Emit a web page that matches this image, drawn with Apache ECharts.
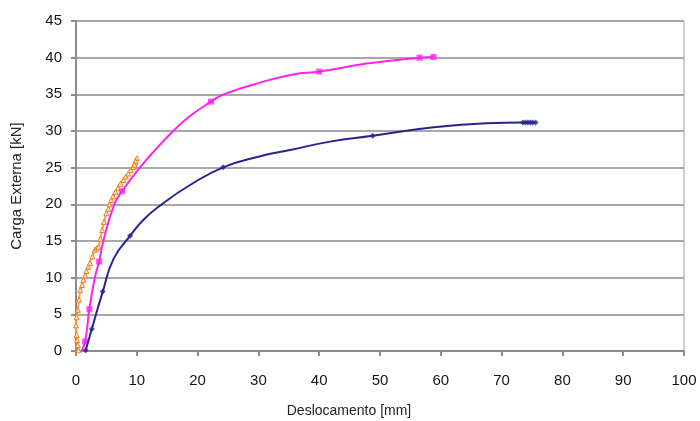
<!DOCTYPE html>
<html>
<head>
<meta charset="utf-8">
<script src="https://cdn.jsdelivr.net/npm/echarts@6/dist/echarts.min.js"></script>
<style>
  html, body { margin: 0; padding: 0; background: #fff; }
  #chart { width: 700px; height: 421px; }
</style>
</head>
<body>
<div id="chart"></div>
<script>
// Load–displacement curves: displacement [mm] vs external load [kN]
const xTicks = [0, 10, 20, 30, 40, 50, 60, 70, 80, 90, 100];
const yTicks = [0, 5, 10, 15, 20, 25, 30, 35, 40, 45];

// Navy curve and its measured points (diamonds)
const blueX = [1.6, 2.6, 4.4, 6.2, 8.9, 11.1, 14.1, 18.7, 24.2, 30.0, 35.2, 41.8, 48.8, 58.8, 67.5, 73.5, 75.6];
const blueY = [0.1, 3.0, 8.1, 12.6, 15.7, 17.9, 20.0, 22.6, 25.05, 26.5, 27.4, 28.55, 29.35, 30.5, 31.05, 31.15, 31.15];
const blueMarkX = [1.6, 2.6, 4.4, 8.9, 24.2, 48.8, 73.5, 73.9, 74.3, 74.7, 75.1, 75.6];
const blueMarkY = [0.1, 3.0, 8.1, 15.7, 25.05, 29.35, 31.15, 31.15, 31.15, 31.15, 31.15, 31.15];

// Magenta curve and its measured points (squares)
const pinkX = [0.9, 1.5, 2.2, 3.1, 3.8, 4.5, 6.3, 7.6, 10.5, 13.0, 16.0, 18.7, 22.2, 24.3, 30.3, 35.7, 40.0, 47.8, 56.5, 58.8];
const pinkY = [0.0, 1.3, 5.7, 10.0, 12.2, 15.0, 20.0, 21.8, 25.0, 27.4, 30.0, 32.0, 34.0, 35.0, 36.6, 37.7, 38.1, 39.2, 40.0, 40.1];
const pinkMarkX = [1.5, 2.2, 3.8, 7.6, 22.2, 40.0, 56.5, 58.8];
const pinkMarkY = [1.3, 5.7, 12.2, 21.8, 34.0, 38.1, 40.0, 40.1];

// Orange series (dense hollow triangle markers)
const orangeX = [0.4, 0.3, 0.2, 0.1, 0.0, 0.1, 0.3, 0.5, 0.7, 1.0, 1.2, 1.5, 1.7, 2.0, 2.3, 2.7, 3.1, 3.4, 3.7, 4.0, 4.3, 4.6, 5.0, 5.3, 5.5, 5.8, 6.1, 6.5, 6.9, 7.3, 7.8, 8.2, 8.6, 9.0, 9.4, 9.7, 10.0, 9.8, 9.6];
const orangeY = [0.1, 0.8, 1.5, 2.2, 3.5, 4.6, 5.6, 7.0, 8.3, 9.0, 9.7, 10.3, 10.9, 11.5, 12.0, 12.9, 13.8, 14.0, 14.2, 15.3, 16.5, 17.6, 18.8, 19.4, 20.0, 20.6, 21.1, 21.7, 22.2, 22.8, 23.3, 23.8, 24.2, 24.7, 25.1, 25.7, 26.3, 25.9, 25.4];

const pairs = (xs, ys) => xs.map((x, i) => [x, ys[i]]);
const BLUE = '#25258f', PINK = '#ff22ee', ORANGE = '#f07f1e';
const labelFont = { fontFamily: 'Liberation Sans', fontSize: 15, color: '#151515' };

const chart = echarts.init(document.getElementById('chart'));
chart.setOption({
  animation: false,
  grid: {
    left: 76, right: 16, top: 21, bottom: 70,
    containLabel: false, outerBoundsMode: 'none',
    show: true, borderColor: '#9c9c9c', borderWidth: 1
  },
  xAxis: {
    type: 'value',
    min: xTicks[0], max: xTicks[xTicks.length - 1], interval: 10,
    name: 'Deslocamento [mm]',
    nameLocation: 'middle', nameGap: 53,
    nameTextStyle: { fontFamily: 'Liberation Sans', fontSize: 14, color: '#222', padding: [0, 62, 0, 0] },
    axisLine: { lineStyle: { color: '#8c8c8c', width: 2 } },
    axisTick: { show: true, inside: false, length: 5, lineStyle: { color: '#8c8c8c', width: 2 } },
    axisLabel: Object.assign({ margin: 22 }, labelFont),
    splitLine: { show: false }
  },
  yAxis: {
    type: 'value',
    min: yTicks[0], max: yTicks[yTicks.length - 1], interval: 5,
    name: 'Carga Externa [kN]',
    nameLocation: 'middle', nameGap: 52, nameRotate: 90,
    nameTextStyle: { fontFamily: 'Liberation Sans', fontSize: 15, color: '#222' },
    axisLine: { show: true, lineStyle: { color: '#8c8c8c', width: 2 } },
    axisTick: { show: true, length: 5, lineStyle: { color: '#8c8c8c', width: 2 } },
    axisLabel: Object.assign({ margin: 14 }, labelFont),
    splitLine: { show: true, lineStyle: { color: '#a8a8a8', width: 2 } }
  },
  series: [
    {
      type: 'line', data: pairs(orangeX, orangeY), smooth: 0.2,
      symbol: 'triangle', symbolSize: 5, showAllSymbol: true,
      lineStyle: { color: '#f6a04d', width: 2 },
      itemStyle: { color: '#fde3c8', borderColor: ORANGE, borderWidth: 1 },
      z: 3
    },
    {
      type: 'line', data: pairs(pinkX, pinkY), smooth: 0.5,
      symbol: 'none', lineStyle: { color: PINK, width: 2 }, z: 4
    },
    {
      type: 'scatter', data: pairs(pinkMarkX, pinkMarkY),
      symbol: 'rect', symbolSize: 6, itemStyle: { color: PINK }, z: 4
    },
    {
      type: 'line', data: pairs(blueX, blueY), smooth: 0.5,
      symbol: 'none', lineStyle: { color: BLUE, width: 2 }, z: 5
    },
    {
      type: 'scatter', data: pairs(blueMarkX, blueMarkY),
      symbol: 'diamond', symbolSize: 6, itemStyle: { color: BLUE }, z: 5
    }
  ]
});
</script>
</body>
</html>
